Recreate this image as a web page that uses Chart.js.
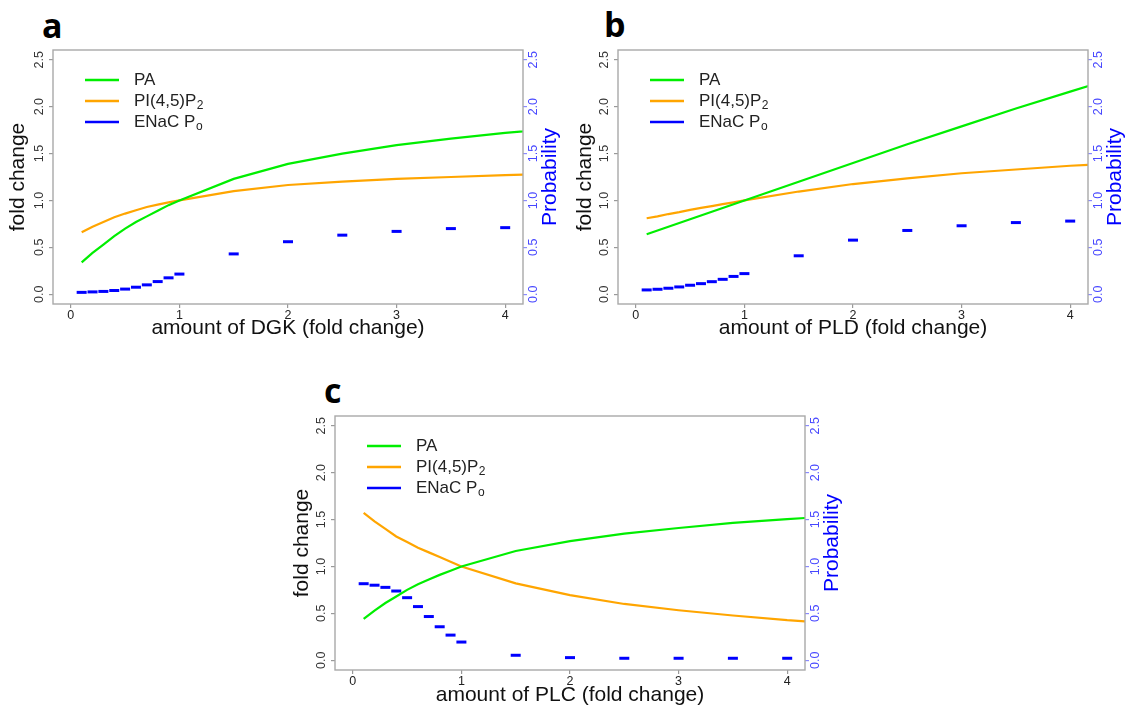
<!DOCTYPE html>
<html>
<head>
<meta charset="utf-8">
<title>PA, PI(4,5)P2 and ENaC Po vs. DGK / PLD / PLC</title>
<script src="https://cdn.jsdelivr.net/npm/chart.js@4.4.1/dist/chart.umd.min.js"></script>
<style>
  html, body { margin: 0; padding: 0; background: #fff; }
  body { width: 1132px; height: 708px; position: relative; overflow: hidden; font-family: "Liberation Sans", Arial, sans-serif; }
  canvas { position: absolute; }
  .tag { position: absolute; font-family: "Open Sans", sans-serif; font-weight: 700; font-size: 34px; line-height: 34px; color: #000; }
</style>
</head>
<body>
<div class="tag" style="left:42px;top:8px">a</div>
<div class="tag" style="left:604px;top:7px">b</div>
<div class="tag" style="left:324px;top:373px">c</div>
<canvas id="chartA" width="560" height="345" style="left:0;top:0"></canvas>
<canvas id="chartB" width="572" height="345" style="left:560px;top:0"></canvas>
<canvas id="chartC" width="580" height="338" style="left:280px;top:370px"></canvas>
<script>
// x values: amount of enzyme (fold change)
const curveX = [0.1, 0.2, 0.3, 0.4, 0.5, 0.6, 0.7, 0.8, 0.9, 1.0, 1.5, 2.0, 2.5, 3.0, 3.5, 4.0, 4.5];
const poX = [0.1, 0.2, 0.3, 0.4, 0.5, 0.6, 0.7, 0.8, 0.9, 1.0, 1.5, 2.0, 2.5, 3.0, 3.5, 4.0];
const xTicks = [0, 1, 2, 3, 4];
const yTicks = [0, 0.5, 1.0, 1.5, 2.0, 2.5];

const legendNames = ['PA', 'PI(4,5)P', 'ENaC P'];
const legendSubs = ['', '2', 'o'];
const legendColors = ['#00ee00', '#ffa500', '#0000ff'];

// panel a - DGK
const dgkPA = [0.34, 0.44, 0.53, 0.62, 0.70, 0.77, 0.83, 0.89, 0.95, 1.0, 1.23, 1.39, 1.50, 1.59, 1.66, 1.72, 1.77];
const dgkPIP2 = [0.66, 0.72, 0.77, 0.82, 0.86, 0.895, 0.93, 0.955, 0.98, 1.0, 1.10, 1.165, 1.20, 1.23, 1.25, 1.27, 1.285];
const dgkPo = [0.02, 0.025, 0.03, 0.04, 0.055, 0.075, 0.10, 0.135, 0.175, 0.215, 0.43, 0.56, 0.63, 0.67, 0.70, 0.71];

// panel b - PLD
const pldPA = [0.64, 0.68, 0.72, 0.76, 0.80, 0.84, 0.88, 0.92, 0.96, 1.0, 1.20, 1.40, 1.60, 1.79, 1.98, 2.16, 2.34];
const pldPIP2 = [0.81, 0.83, 0.855, 0.875, 0.90, 0.92, 0.94, 0.96, 0.98, 1.0, 1.095, 1.175, 1.235, 1.29, 1.33, 1.37, 1.40];
const pldPo = [0.046, 0.053, 0.064, 0.078, 0.096, 0.113, 0.134, 0.159, 0.19, 0.22, 0.41, 0.577, 0.68, 0.73, 0.764, 0.78];

// panel c - PLC
const plcPA = [0.44, 0.53, 0.61, 0.68, 0.75, 0.81, 0.86, 0.91, 0.955, 1.0, 1.165, 1.27, 1.35, 1.41, 1.465, 1.505, 1.54];
const plcPIP2 = [1.57, 1.48, 1.40, 1.32, 1.26, 1.20, 1.15, 1.10, 1.05, 1.0, 0.82, 0.695, 0.60, 0.533, 0.477, 0.427, 0.39];
const plcPo = [0.816, 0.80, 0.777, 0.738, 0.667, 0.572, 0.466, 0.357, 0.268, 0.194, 0.053, 0.028, 0.021, 0.021, 0.021, 0.021];

const FONT = '"Liberation Sans", Arial, sans-serif';

// frame, rotated tick labels, right axis title and the legend
const decor = {
  id: 'decor',
  afterDraw(chart) {
    const ctx = chart.ctx;
    const a = chart.chartArea;
    ctx.save();
    ctx.strokeStyle = '#a9a9a9';
    ctx.lineWidth = 1.4;
    ctx.strokeRect(a.left, a.top, a.right - a.left, a.bottom - a.top);

    ctx.font = '12.5px ' + FONT;
    ctx.textAlign = 'center';
    ctx.textBaseline = 'middle';
    const y = chart.scales.y, y2 = chart.scales.y2;
    y.ticks.forEach(t => {
      ctx.save();
      ctx.translate(a.left - 13.5, y.getPixelForValue(t.value));
      ctx.rotate(-Math.PI / 2);
      ctx.fillStyle = '#333';
      ctx.fillText(t.value.toFixed(1), 0, 0);
      ctx.restore();
    });
    y2.ticks.forEach(t => {
      ctx.save();
      ctx.translate(a.right + 10.5, y2.getPixelForValue(t.value));
      ctx.rotate(-Math.PI / 2);
      ctx.fillStyle = '#4646ff';
      ctx.fillText(t.value.toFixed(1), 0, 0);
      ctx.restore();
    });

    ctx.save();
    ctx.translate(a.right + 27, (a.top + a.bottom) / 2);
    ctx.rotate(-Math.PI / 2);
    ctx.font = '21px ' + FONT;
    ctx.fillStyle = '#0000ff';
    ctx.fillText('Probability', 0, 0);
    ctx.restore();

    // legend
    ctx.textAlign = 'left';
    legendNames.forEach((name, i) => {
      const ly = a.top + 30 + i * 21;
      ctx.strokeStyle = legendColors[i];
      ctx.lineWidth = 2.6;
      ctx.beginPath();
      ctx.moveTo(a.left + 32, ly);
      ctx.lineTo(a.left + 66, ly);
      ctx.stroke();
      ctx.fillStyle = '#222';
      ctx.font = '17px ' + FONT;
      ctx.fillText(name, a.left + 81, ly);
      if (legendSubs[i]) {
        const w = ctx.measureText(name).width;
        ctx.font = '12px ' + FONT;
        ctx.fillText(legendSubs[i], a.left + 81 + w + 0.5, ly + 5);
      }
    });
    ctx.restore();
  }
};

function makeChart(id, pa, pip2, po, xTitle, box) {
  const setTicks = vals => scale => { scale.ticks = vals.map(v => ({ value: v })); };
  return new Chart(document.getElementById(id), {
    type: 'line',
    data: {
      datasets: [
        { label: 'PA', data: curveX.map((x, i) => ({ x, y: pa[i] })), borderColor: '#00ee00', borderWidth: 2.2, pointRadius: 0, yAxisID: 'y' },
        { label: 'PI(4,5)P2', data: curveX.map((x, i) => ({ x, y: pip2[i] })), borderColor: '#ffa500', borderWidth: 2.2, pointRadius: 0, yAxisID: 'y' },
        { label: 'ENaC Po', data: poX.map((x, i) => ({ x, y: po[i] })), showLine: false, yAxisID: 'y2',
          pointStyle: 'line', pointRadius: 5, pointBorderWidth: 3, borderColor: '#0000ff', backgroundColor: '#0000ff' }
      ]
    },
    options: {
      responsive: false,
      animation: false,
      events: [],
      layout: { padding: { top: box.top, left: 0, right: 0, bottom: 0 } },
      plugins: { legend: { display: false }, tooltip: { enabled: false } },
      scales: {
        x: {
          type: 'linear', min: -0.164, max: 4.164,
          afterBuildTicks: setTicks(xTicks),
          afterFit: s => { s.height = box.bottomH; },
          grid: { drawOnChartArea: false, tickLength: 4, color: '#999', lineWidth: 1.2 },
          border: { display: false },
          ticks: { padding: 0, color: '#222', font: { family: FONT, size: 12.5 } },
          title: { display: true, text: xTitle, color: '#111', font: { family: FONT, size: 21 }, padding: { top: 0, bottom: box.xTitlePad } }
        },
        y: {
          type: 'linear', position: 'left', min: -0.104, max: 2.604,
          afterBuildTicks: setTicks(yTicks),
          afterFit: s => { s.width = box.leftW; },
          grid: { drawOnChartArea: false, tickLength: 4, color: '#999', lineWidth: 1.2 },
          border: { display: false },
          ticks: { display: false },
          title: { display: true, text: 'fold change', color: '#111', font: { family: FONT, size: 21 }, padding: { top: box.yTitlePad, bottom: 0 } }
        },
        y2: {
          type: 'linear', position: 'right', min: -0.104, max: 2.604,
          afterBuildTicks: setTicks(yTicks),
          afterFit: s => { s.width = box.rightW; },
          grid: { drawOnChartArea: false, tickLength: 4, color: '#8a8aff', lineWidth: 1.2 },
          border: { display: false },
          ticks: { display: false }
        }
      }
    },
    plugins: [decor]
  });
}

makeChart('chartA', dgkPA, dgkPIP2, dgkPo, 'amount of DGK (fold change)',
  { top: 50, leftW: 53, rightW: 37, bottomH: 41, xTitlePad: 4, yTitlePad: 5.3 });
makeChart('chartB', pldPA, pldPIP2, pldPo, 'amount of PLD (fold change)',
  { top: 50, leftW: 58, rightW: 44, bottomH: 41, xTitlePad: 4, yTitlePad: 12.9 });
makeChart('chartC', plcPA, plcPIP2, plcPo, 'amount of PLC (fold change)',
  { top: 46, leftW: 55, rightW: 55, bottomH: 38, xTitlePad: 0, yTitlePad: 9.6 });
</script>
</body>
</html>
